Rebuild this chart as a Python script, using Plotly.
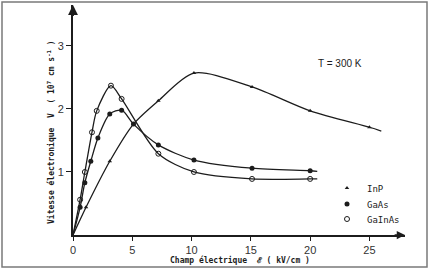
import plotly.graph_objects as go

# ---- data ----
inp_field = [1.1, 3.1, 5.1, 7.2, 10.2, 15.1, 20.0, 25.0]
inp_speed = [0.44, 1.17, 1.76, 2.13, 2.57, 2.35, 1.97, 1.71]
inp_tail = (26.0, 1.65)

gaas_field = [0.6, 1.0, 1.5, 2.1, 3.1, 4.1, 5.1, 7.2, 10.2, 15.1, 20.0]
gaas_speed = [0.44, 0.83, 1.17, 1.54, 1.92, 1.98, 1.76, 1.43, 1.19, 1.06, 1.02]
gaas_tail = (20.6, 1.01)

gainas_field = [0.6, 1.0, 1.6, 2.0, 3.2, 4.1, 7.2, 10.2, 15.1, 20.0]
gainas_speed = [0.56, 1.00, 1.63, 1.97, 2.37, 2.16, 1.29, 1.00, 0.89, 0.89]
gainas_tail = (20.6, 0.89)

origin = (0.0, 0.0)

x_ticks = [0, 5, 10, 15, 20, 25]
y_ticks = [1, 2, 3]

INK = "#1c1c1c"
MONO = "DejaVu Sans Mono"


def px_x(p):
    return (p - 73) / 332


def px_y(p):
    return (235 - p) / 230


fig = go.Figure()


def curve(xs, ys, tail):
    return [origin[0]] + xs + [tail[0]], [origin[1]] + ys + [tail[1]]


series = [
    ("GaInAs", gainas_field, gainas_speed, gainas_tail,
     dict(symbol="circle-open", size=5, color=INK, line=dict(width=1, color=INK)), "legend3"),
    ("GaAs", gaas_field, gaas_speed, gaas_tail,
     dict(symbol="circle", size=5, color=INK), "legend2"),
    ("InP", inp_field, inp_speed, inp_tail,
     dict(symbol="triangle-up", size=4, color=INK), "legend"),
]

for name, xs, ys, tail, mk, lg in series:
    cx, cy = curve(xs, ys, tail)
    fig.add_trace(go.Scatter(x=cx, y=cy, mode="lines",
                             line=dict(color=INK, width=1.3, shape="spline", smoothing=0.8),
                             showlegend=False, hoverinfo="skip"))

for name, xs, ys, tail, mk, lg in series:
    fig.add_trace(go.Scatter(x=xs, y=ys, mode="markers", name=name, marker=mk,
                             showlegend=True, legend=lg))

leg_common = dict(xanchor="left", yanchor="middle", bgcolor="rgba(0,0,0,0)",
                  font=dict(family=MONO, size=9, color=INK), itemsizing="trace",
                  borderwidth=0)

fig.update_layout(
    width=430, height=269, autosize=False,
    margin=dict(l=73, r=25, t=5, b=34),
    paper_bgcolor="white", plot_bgcolor="white",
    font=dict(family=MONO, size=10, color=INK),
    legend=dict(x=px_x(327), y=px_y(188), **leg_common),
    legend2=dict(x=px_x(327), y=px_y(204), **leg_common),
    legend3=dict(x=px_x(327), y=px_y(219), **leg_common),
    xaxis=dict(range=[0, 28], tickvals=x_ticks, ticktext=[str(v) for v in x_ticks],
               showgrid=False, zeroline=False, showline=True, linecolor=INK, linewidth=1.5,
               ticks="outside", ticklen=4, tickcolor=INK, tickwidth=1.2,
               tickfont=dict(family="Liberation Sans", size=11, color="#333")),
    yaxis=dict(range=[0, 3.65], tickvals=y_ticks, ticktext=[str(v) for v in y_ticks],
               showgrid=False, zeroline=False, showline=True, linecolor=INK, linewidth=1.8,
               ticks="outside", ticklen=5, tickcolor=INK, tickwidth=1.2,
               tickfont=dict(family="Liberation Sans", size=11, color="#333")),
)

# axis arrows
fig.add_annotation(x=28, y=0, ax=27.0, ay=0, xref="x", yref="y", axref="x", ayref="y",
                   showarrow=True, arrowhead=2, arrowsize=1.1, arrowwidth=1.5, arrowcolor=INK, text="")
fig.add_annotation(x=0, y=3.65, ax=0, ay=3.45, xref="x", yref="y", axref="x", ayref="y",
                   showarrow=True, arrowhead=2, arrowsize=1.1, arrowwidth=1.8, arrowcolor=INK, text="")

# axis titles
fig.add_annotation(x=px_x(51), y=px_y(132), xref="paper", yref="paper", showarrow=False,
                   xanchor="center", yanchor="middle",
                   text="<b>Vitesse électronique  V  ( 10<sup>7</sup> cm s<sup>-1</sup> )</b>",
                   textangle=-90, font=dict(family=MONO, size=8, color=INK))
fig.add_annotation(x=px_x(240), y=px_y(260), xref="paper", yref="paper", showarrow=False,
                   xanchor="center", yanchor="middle",
                   text="<b>Champ électrique  ℰ ( kV/cm )</b>",
                   font=dict(family=MONO, size=8, color=INK))
fig.add_annotation(x=px_x(340), y=px_y(63), xref="paper", yref="paper", showarrow=False,
                   xanchor="center", yanchor="middle",
                   text="T = 300 K", font=dict(family="Liberation Sans", size=10, color=INK))

# outer frame
fig.add_shape(type="rect", xref="paper", yref="paper",
              x0=px_x(2), x1=px_x(427), y0=px_y(267), y1=px_y(2),
              line=dict(color="#7a7a7a", width=1.5), fillcolor="rgba(0,0,0,0)")

fig.write_html("out.html")
